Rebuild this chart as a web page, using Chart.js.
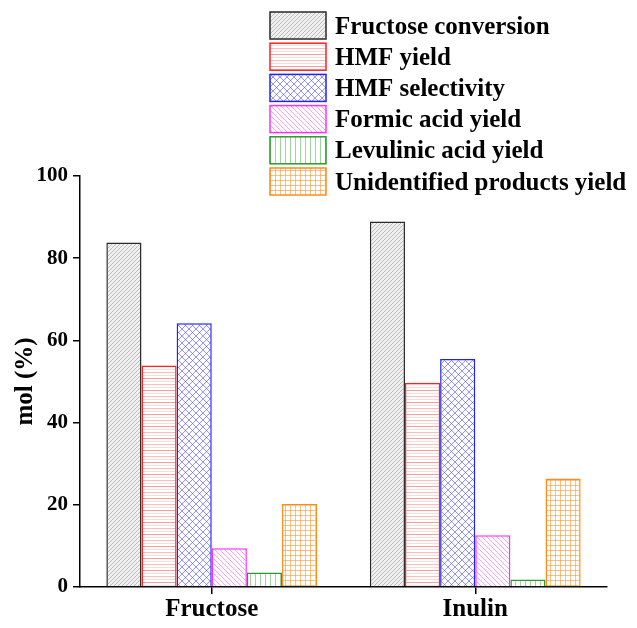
<!DOCTYPE html>
<html><head><meta charset="utf-8">
<script src="https://cdn.jsdelivr.net/npm/chart.js@4"></script>
<style>html,body{margin:0;padding:0;background:#fff}canvas{display:block}</style>
</head><body>
<canvas id="c" width="637" height="628"></canvas>
<script>
const categories = ["Fructose", "Inulin"];
const seriesNames = ["Fructose conversion", "HMF yield", "HMF selectivity", "Formic acid yield", "Levulinic acid yield", "Unidentified products yield"];
const fructoseConversion = [83.8, 88.9];
const hmfYield = [53.9, 49.7];
const hmfSelectivity = [64.2, 55.5];
const formicAcidYield = [9.4, 12.6];
const levulinicAcidYield = [3.5, 1.8];
const unidentifiedYield = [20.2, 26.4];
const yTicks = [0, 20, 40, 60, 80, 100];

const FONT = "'Liberation Serif', 'Times New Roman', serif";

function tile(size, draw) {
  const c = document.createElement('canvas');
  c.width = size; c.height = size;
  const g = c.getContext('2d');
  g.fillStyle = '#fff'; g.fillRect(0, 0, size, size);
  draw(g, size);
  return document.getElementById('c').getContext('2d').createPattern(c, 'repeat');
}
function diag(g, n, color, dir, w) {
  g.strokeStyle = color; g.lineWidth = w || 1;
  g.beginPath();
  for (let k = -1; k <= 1; k++) {
    if (dir > 0) { g.moveTo(k * n, n); g.lineTo(k * n + n, 0); }
    else { g.moveTo(k * n, 0); g.lineTo(k * n + n, n); }
  }
  g.stroke();
}
const patterns = [
  tile(4, (g, n) => { g.fillStyle = '#f0f0f0'; g.fillRect(0,0,n,n); diag(g, n, 'rgba(70,70,70,0.38)', 1, 0.8); }),
  tile(12, (g, n) => {
    const a = [0.35, 0.18, 0.5, 0.18];
    for (let i = 0; i < 4; i++) { g.fillStyle = 'rgba(255,60,60,' + a[i] + ')'; g.fillRect(0, i * 3, n, 1); }
  }),
  tile(7, (g, n) => { diag(g, n, 'rgba(60,60,255,0.55)', 1, 1); diag(g, n, 'rgba(60,60,255,0.55)', -1, 1); }),
  tile(5, (g, n) => { diag(g, n, 'rgba(255,80,255,0.55)', -1, 1); }),
  tile(5, (g, n) => { g.fillStyle = 'rgba(40,160,40,0.45)'; g.fillRect(0, 0, 1, n); }),
  tile(5, (g, n) => { g.fillStyle = 'rgba(255,140,30,0.55)'; g.fillRect(0, 0, 1, n); g.fillRect(0, 0, n, 1); })
];
const borders = ['#2a2a2a', '#ff2020', '#2020ff', '#ff30ff', '#2a9a2a', '#ff8c1a'];
const values = [fructoseConversion, hmfYield, hmfSelectivity, formicAcidYield, levulinicAcidYield, unidentifiedYield];

const legendPlugin = {
  id: 'customLegend',
  afterDraw(chart) {
    const ctx = chart.ctx;
    ctx.save();
    chart.data.datasets.forEach((ds, i) => {
      const x = 270, y = 12 + i * 31.2, w = 56, h = 27;
      ctx.fillStyle = ds.backgroundColor;
      ctx.fillRect(x, y, w, h);
      ctx.strokeStyle = ds.borderColor; ctx.lineWidth = 1.5;
      ctx.strokeRect(x, y, w, h);
      ctx.fillStyle = '#000';
      ctx.font = 'bold 25px ' + FONT;
      ctx.textBaseline = 'alphabetic';
      ctx.fillText(ds.label, 335, y + h / 2 + 8);
    });
    ctx.restore();
  }
};

new Chart(document.getElementById('c'), {
  type: 'bar',
  data: {
    labels: categories,
    datasets: seriesNames.map((name, i) => ({
      label: name,
      data: values[i],
      backgroundColor: patterns[i],
      borderColor: borders[i],
      borderWidth: 1.5,
      borderSkipped: 'bottom',
      barPercentage: 1,
      categoryPercentage: 0.8
    }))
  },
  options: {
    responsive: false,
    animation: false,
    layout: { padding: { top: 176, right: 30, left: 0, bottom: 0 } },
    plugins: { legend: { display: false }, tooltip: { enabled: false } },
    scales: {
      x: {
        grid: { display: true, drawOnChartArea: false, offset: false, tickLength: 7, color: '#000', lineWidth: 1.5 },
        border: { display: true, color: '#000', width: 1.5 },
        ticks: { color: '#000', font: { family: FONT, size: 25, weight: 'bold' }, padding: 1 },
        afterFit(s) { s.height = 41; }
      },
      y: {
        min: 0, max: 100,
        afterBuildTicks(s) { s.ticks = yTicks.map(v => ({ value: v })); },
        grid: { display: true, drawOnChartArea: false, tickLength: 7, color: '#000', lineWidth: 1.5 },
        border: { display: true, color: '#000', width: 1.5 },
        ticks: { color: '#000', font: { family: FONT, size: 21, weight: 'bold' }, padding: 5 },
        title: { display: true, text: 'mol (%)', color: '#000', font: { family: FONT, size: 25, weight: 'bold' }, padding: { top: 11, bottom: 0 } },
        afterFit(s) { s.width = 80; }
      }
    }
  },
  plugins: [legendPlugin]
});
</script>
</body></html>
